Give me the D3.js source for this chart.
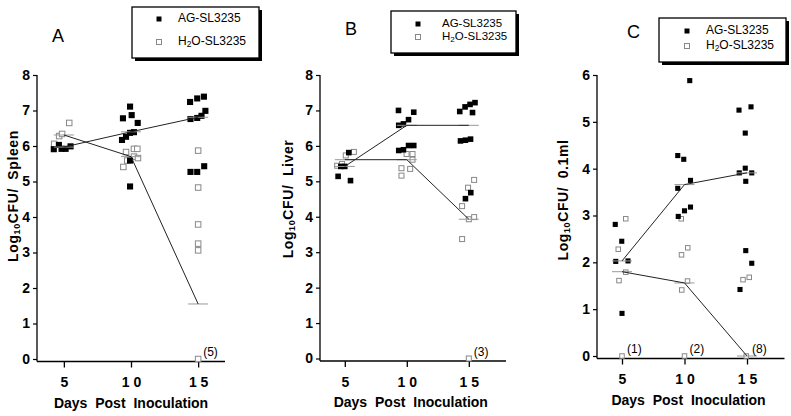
<!DOCTYPE html>
<html><head><meta charset="utf-8">
<script src="https://cdn.jsdelivr.net/npm/d3@7"></script>
<style>
body{margin:0;background:#fff}
svg{display:block}
text{font-family:"Liberation Sans",Arial,Helvetica,sans-serif}
</style>
</head><body>
<svg id="chart" width="791" height="416"></svg>
<script>
// ---------------- DATA ----------------
const dayTicks = [5, 10, 15];
const seriesNames = ["AG-SL3235", "H2O-SL3235"];
const xTitle = "Days Post Inoculation";

// Panel A - Spleen : [day (as plotted, with jitter), log10 CFU]
const spleenAG = [
  [4.25,5.91],[4.63,6.03],[4.83,5.92],[5.13,5.92],[5.5,5.99],
  [9.93,7.11],[9.4,6.78],[10.05,6.87],[10.5,6.65],[9.33,6.17],[9.63,6.26],[9.93,6.37],[10.22,6.39],[9.93,5.59],[9.93,4.86],
  [14.4,7.24],[14.93,7.34],[15.43,7.39],[15.54,6.99],[14.43,6.76],[14.93,6.79],[15.25,6.85],[14.43,5.27],[14.93,5.27],[15.45,5.43]
];
const spleenH2O = [
  [4.28,6.06],[4.65,6.28],[4.87,6.34],[5.4,6.65],
  [9.63,5.83],[10.22,5.92],[10.47,5.92],[9.43,5.41],[9.72,5.59],[10.22,5.70],[10.52,5.66],
  [15,5.87],[15,4.83],[15,3.79],[15,3.25],[15,3.06],[15,0]
];
const spleenMeanAG = [5.97, 6.40, 6.81];
const spleenMeanH2O = [6.31, 5.70, 1.55];
const spleenZeroCount = [null, null, 5];

// Panel B - Liver
const liverAG = [
  [4.46,5.14],[4.68,5.42],[5.0,5.42],[5.32,5.81],[5.46,5.02],
  [9.33,7.0],[9.35,6.58],[9.73,6.62],[10.14,6.74],[10.56,6.95],[9.35,5.87],[9.73,5.89],[10.14,6.01],[10.56,6.01],
  [14.27,6.97],[14.7,7.10],[15.1,7.17],[15.5,7.22],[15.3,6.94],[14.33,6.14],[14.73,6.16],[15.14,6.19],[14.73,4.51],[15.16,4.68]
];
const liverH2O = [
  [4.38,5.44],[4.78,5.49],[5.08,5.73],[5.73,5.83],
  [9.98,5.77],[10.46,5.77],[10.46,5.61],[9.57,5.37],[9.57,5.16],[10.27,5.35],
  [15.43,5.04],[14.94,4.82],[14.46,4.30],[15.43,3.99],[15.0,3.93],[14.46,3.37],[15,0]
];
const liverMeanAG = [5.42, 6.58, 6.58];
const liverMeanH2O = [5.61, 5.61, 3.93];
const liverZeroCount = [null, null, 3];

// Panel C - 0.1 ml
const mlAG = [
  [4.46,2.81],[4.98,2.45],[4.5,2.02],[5.48,2.03],[5.0,0.91],
  [10.42,5.88],[9.46,4.28],[9.94,4.20],[10.48,3.75],[9.46,3.58],[9.5,2.98],[10.0,3.10],[10.48,3.18],
  [14.36,5.25],[15.32,5.32],[14.86,4.76],[14.86,4.01],[14.38,3.91],[15.38,3.91],[14.9,3.73],[14.9,2.25],[15.38,1.98],[14.44,1.42]
];
const mlH2O = [
  [5.3,2.93],[4.7,2.28],[5.3,1.79],[4.76,1.61],[5.0,0],
  [9.74,2.93],[10.26,2.31],[9.76,2.16],[9.78,1.41],[10.24,1.60],[10.0,0],
  [14.68,1.63],[15.18,1.68],[14.94,0]
];
const mlMeanAG = [2.03, 3.66, 3.91];
const mlMeanH2O = [1.80, 1.56, 0];
const mlZeroCount = [1, 2, 8];

// ---------------- LAYOUT ----------------
const panels = [
  {letter:"A", organ:"Spleen", ag:spleenAG, h2o:spleenH2O, mAG:spleenMeanAG, mH2O:spleenMeanH2O, zeros:spleenZeroCount,
   xDom:[3,17], xRange:[37,225], yMax:8, yRange:[359,75], ms:5.5,
   titleX:14, titleY:196, letterX:52, letterY:42,
   leg:{x:132,y:7,w:127,h:51,mx:159,my1:19,my2:42,tx:178,fs:12}},
  {letter:"B", organ:"Liver", ag:liverAG, h2o:liverH2O, mAG:liverMeanAG, mH2O:liverMeanH2O, zeros:liverZeroCount,
   xDom:[3,18], xRange:[320,506], yMax:8, yRange:[358.5,75], ms:5,
   titleX:289, titleY:199, letterX:345, letterY:35,
   leg:{x:391,y:11,w:125,h:42,mx:418,my1:24,my2:37,tx:442,fs:11.5}},
  {letter:"C", organ:"0.1ml", ag:mlAG, h2o:mlH2O, mAG:mlMeanAG, mH2O:mlMeanH2O, zeros:mlZeroCount,
   xDom:[3,18], xRange:[597,784.5], yMax:6, yRange:[356,75], ms:4.5,
   titleX:564, titleY:200, letterX:627, letterY:38,
   leg:{x:659,y:18,w:127,h:44,mx:687,my1:31,my2:46,tx:706,fs:12}}
];

const svg = d3.select("#chart");

function legendLabel(sel, name){
  if (name.startsWith("H2O")) {
    sel.append("tspan").text("H");
    sel.append("tspan").attr("font-size","0.7em").attr("dy","3").text("2");
    sel.append("tspan").attr("dy","-3").text(name.slice(2));
  } else sel.text(name);
}

panels.forEach(p => {
  const g = svg.append("g");
  const x = d3.scaleLinear().domain(p.xDom).range(p.xRange);
  const y = d3.scaleLinear().domain([0, p.yMax]).range(p.yRange);
  const axisY = y(0) + 2.5;

  // y axis
  const yAx = g.append("g").attr("transform",`translate(${p.xRange[0]},0)`)
    .call(d3.axisLeft(y).ticks(p.yMax).tickSize(4).tickPadding(3).tickFormat(d3.format("d")));
  yAx.select(".domain").remove();
  yAx.selectAll("text").attr("font-size",14).attr("font-weight","bold").attr("fill","#000").attr("font-family",null);
  yAx.selectAll("line").attr("stroke","#000").attr("stroke-width",1.2);
  g.append("line").attr("x1",p.xRange[0]).attr("x2",p.xRange[0])
    .attr("y1",y(p.yMax)).attr("y2",axisY).attr("stroke","#000").attr("stroke-width",1.3);

  // x axis
  const xAx = g.append("g").attr("transform",`translate(0,${axisY})`)
    .call(d3.axisBottom(x).tickValues(dayTicks).tickSize(6).tickPadding(10)
      .tickFormat(d => String(d).split("").join(" ")));
  xAx.select(".domain").remove();
  xAx.selectAll("text").attr("font-size",14).attr("font-weight","bold").attr("fill","#000").attr("font-family",null)
    .style("white-space","pre");
  xAx.selectAll("line").attr("stroke","#000").attr("stroke-width",1.3);
  g.append("line").attr("x1",p.xRange[0]).attr("x2",p.xRange[1])
    .attr("y1",axisY).attr("y2",axisY).attr("stroke","#000").attr("stroke-width",1.3);

  // x title
  g.append("text").attr("x", x(10)+ (p.letter==="A"?0:4)).attr("y", axisY+46)
    .attr("text-anchor","middle").attr("font-size",14).attr("font-weight","bold")
    .attr("word-spacing","4px").text(xTitle);

  // y title
  const yt = g.append("text").attr("transform",`translate(${p.titleX},${p.titleY}) rotate(-90)`)
    .attr("text-anchor","middle").attr("dominant-baseline","middle")
    .attr("font-size",14).attr("font-weight","bold").attr("letter-spacing","0.6px");
  yt.append("tspan").text("Log");
  yt.append("tspan").attr("font-size",9).attr("dy",4).text("10");
  yt.append("tspan").attr("dy",-4).attr("word-spacing","4px").text("CFU/ " + p.organ);

  // panel letter
  g.append("text").attr("x",p.letterX).attr("y",p.letterY).attr("font-size",18).text(p.letter);

  // points: H2O (open) then AG (filled)
  const s = p.ms;
  g.selectAll(".h2o").data(p.h2o).join("rect").attr("class","h2o")
    .attr("x",d=>x(d[0])-s/2).attr("y",d=>y(d[1])-s/2).attr("width",s).attr("height",s)
    .attr("fill","#fff").attr("stroke","#888").attr("stroke-width",1);
  g.selectAll(".ag").data(p.ag).join("rect").attr("class","ag")
    .attr("x",d=>x(d[0])-s/2-0.3).attr("y",d=>y(d[1])-s/2-0.3).attr("width",s+0.6).attr("height",s+0.6)
    .attr("fill","#000");

  // mean lines and ticks
  const line = d3.line().x(d=>x(d[0])).y(d=>y(d[1]));
  [p.mAG, p.mH2O].forEach(m => {
    const pts = dayTicks.map((d,i)=>[d, m[i]]);
    g.append("g").selectAll("line").data(pts).join("line")
      .attr("x1",d=>x(d[0])-10).attr("x2",d=>x(d[0])+10)
      .attr("y1",d=>y(d[1])).attr("y2",d=>y(d[1]))
      .attr("stroke","#999").attr("stroke-width",1);
    g.append("path").datum(pts).attr("d",line).attr("fill","none")
      .attr("stroke","#222").attr("stroke-width",1);
  });

  // zero counts
  dayTicks.forEach((d,i)=>{
    if (p.zeros[i] != null)
      g.append("text").attr("x",x(d)+5).attr("y",y(0)-3).attr("font-size",12).text(`(${p.zeros[i]})`);
  });

  // legend
  const L = p.leg;
  g.append("rect").attr("x",L.x+3).attr("y",L.y+3).attr("width",L.w).attr("height",L.h).attr("fill","#000");
  g.append("rect").attr("x",L.x).attr("y",L.y).attr("width",L.w).attr("height",L.h)
    .attr("fill","#fff").attr("stroke","#000").attr("stroke-width",1.3);
  g.append("rect").attr("x",L.mx-2.5).attr("y",L.my1-2.5).attr("width",5).attr("height",5).attr("fill","#000");
  g.append("rect").attr("x",L.mx-2.5).attr("y",L.my2-2.5).attr("width",5).attr("height",5)
    .attr("fill","#fff").attr("stroke","#888");
  g.append("text").attr("x",L.tx).attr("y",L.my1).attr("dominant-baseline","middle")
    .attr("font-size",L.fs).call(legendLabel, seriesNames[0]);
  g.append("text").attr("x",L.tx).attr("y",L.my2).attr("dominant-baseline","middle")
    .attr("font-size",L.fs).call(legendLabel, seriesNames[1]);
});
</script>
</body></html>
